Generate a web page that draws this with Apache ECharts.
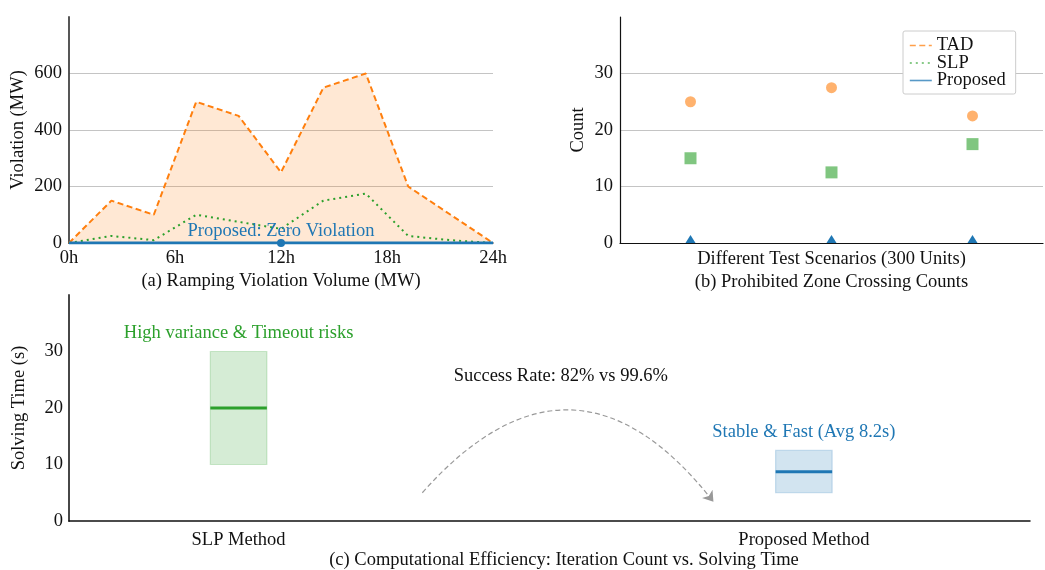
<!DOCTYPE html>
<html>
<head>
<meta charset="utf-8">
<script src="https://cdn.jsdelivr.net/npm/echarts/dist/echarts.min.js"></script>
<style>
  html, body { margin: 0; padding: 0; background: #fff; }
  #chart { width: 1045px; height: 570px; }
</style>
</head>
<body>
<div id="chart"></div>
<script>
// ---- Data ----
const hours = [0, 2.4, 4.8, 7.2, 9.6, 12, 14.4, 16.8, 19.2, 21.6, 24];
const tadViolation = [0, 150, 100, 500, 450, 250, 550, 600, 200, 100, 0];
const slpViolation = [0, 25, 10, 100, 75, 50, 150, 175, 25, 10, 0];
const proposedViolation = [0, 0, 0, 0, 0, 0, 0, 0, 0, 0, 0];
const zeroMarkerHour = [12];
const zeroLabel = 'Proposed: Zero Violation';

const scenarios = ['Scenario 1', 'Scenario 2', 'Scenario 3'];
const tadCrossings = [25, 27.5, 22.5];
const slpCrossings = [15, 12.5, 17.5];
const proposedCrossings = [0, 0, 0];

const methods = ['SLP Method', 'Proposed Method'];
const methodPos = [0, 1];
const timeLow = [10, 5];
const timeHigh = [30, 12.5];
const timeMedian = [20, 8.7];
const methodNotes = ['High variance & Timeout risks', 'Stable & Fast (Avg 8.2s)'];
const arrowStart = [0.325, 5];
const arrowEnd = [0.84, 3.4];
const successText = 'Success Rate: 82% vs 99.6%';
const successPos = [0.57, 25.7];

const seriesNames = ['TAD', 'SLP', 'Proposed'];

// ---- Style ----
const FONT = '"Liberation Serif", "Times New Roman", serif';
const FS = 18.5;
const ORANGE = '#ff7f0e', GREEN = '#2ca02c', BLUE = '#1f77b4';
const methodColors = [GREEN, BLUE];
const BOX_HALF = 0.05;
function rgba(hex, a) {
  const n = parseInt(hex.slice(1), 16);
  return 'rgba(' + (n >> 16 & 255) + ',' + (n >> 8 & 255) + ',' + (n & 255) + ',' + a + ')';
}
const labelStyle = { fontFamily: FONT, fontSize: FS, color: '#111' };

const chart = echarts.init(document.getElementById('chart'), null, { renderer: 'canvas' });

const option = {
  animation: false,
  textStyle: { fontFamily: FONT },
  title: [{
    text: '(c) Computational Efficiency: Iteration Count vs. Solving Time',
    left: 564, top: 551, textAlign: 'center', padding: 0,
    textStyle: { fontFamily: FONT, fontSize: FS, fontWeight: 'normal', color: '#111' }
  }],
  legend: {
    data: seriesNames,
    orient: 'vertical',
    left: 903, top: 31,
    backgroundColor: '#fff',
    borderColor: '#cccccc', borderWidth: 1, borderRadius: 2,
    padding: [5, 10, 4, 6],
    itemWidth: 22, itemHeight: 10, itemGap: -1.5,
    itemStyle: { opacity: 0 },
    lineStyle: { opacity: 0.75, width: 1.6 },
    textStyle: { fontFamily: FONT, fontSize: FS, color: '#111', lineHeight: 17.5 }
  },
  grid: [
    { left: 69, top: 17, width: 424, height: 226, outerBoundsMode: 'none' },
    { left: 620, top: 17, width: 423, height: 226, outerBoundsMode: 'none' },
    { left: 69, top: 295, width: 961, height: 226, outerBoundsMode: 'none' }
  ],
  xAxis: [
    {
      gridIndex: 0, type: 'value', min: 0, max: 24, interval: 6,
      axisLine: { show: true, lineStyle: { color: '#333', width: 1.5 } },
      axisTick: { show: false }, splitLine: { show: false },
      axisLabel: Object.assign({ margin: 6, formatter: v => v + 'h' }, labelStyle),
      name: '(a) Ramping Violation Volume (MW)', nameLocation: 'middle', nameGap: 29,
      nameTextStyle: labelStyle
    },
    {
      gridIndex: 1, type: 'category', data: scenarios, boundaryGap: true,
      axisLine: { show: true, lineStyle: { color: '#111', width: 1.2 } },
      axisTick: { show: false }, axisLabel: { show: false }, splitLine: { show: false },
      name: 'Different Test Scenarios (300 Units)\n(b) Prohibited Zone Crossing Counts',
      nameLocation: 'middle', nameGap: 4,
      nameTextStyle: Object.assign({ lineHeight: 23.4 }, labelStyle)
    },
    {
      gridIndex: 2, type: 'value', min: -0.3, max: 1.4,
      axisLine: { show: true, onZero: false, lineStyle: { color: '#111', width: 1.5 } },
      axisTick: { show: false }, splitLine: { show: false },
      axisLabel: Object.assign({
        margin: 10,
        customValues: methodPos,
        formatter: v => methods[methodPos.indexOf(Math.round(v))] || ''
      }, labelStyle)
    }
  ],
  yAxis: [
    {
      gridIndex: 0, type: 'value', min: 0, max: 800, interval: 200,
      axisLine: { show: true, onZero: false, lineStyle: { color: '#444', width: 1.8 } },
      axisTick: { show: false },
      axisLabel: Object.assign({ margin: 7, showMaxLabel: false }, labelStyle),
      splitLine: { show: true, showMaxLine: false, lineStyle: { color: '#c4c4c4', width: 1 } },
      name: 'Violation (MW)', nameLocation: 'middle', nameGap: 41, nameTextStyle: labelStyle
    },
    {
      gridIndex: 1, type: 'value', min: 0, max: 40, interval: 10,
      axisLine: { show: true, onZero: false, lineStyle: { color: '#111', width: 1.2 } },
      axisTick: { show: false },
      axisLabel: Object.assign({ margin: 7, showMaxLabel: false }, labelStyle),
      splitLine: { show: true, showMaxLine: false, lineStyle: { color: '#c4c4c4', width: 1 } },
      name: 'Count', nameLocation: 'middle', nameGap: 32, nameTextStyle: labelStyle
    },
    {
      gridIndex: 2, type: 'value', min: 0, max: 40, interval: 10,
      axisLine: { show: true, onZero: false, lineStyle: { color: '#333', width: 1.8 } },
      axisTick: { show: false },
      axisLabel: Object.assign({ margin: 6, showMaxLabel: false }, labelStyle),
      splitLine: { show: false },
      name: 'Solving Time (s)', nameLocation: 'middle', nameGap: 40, nameTextStyle: labelStyle
    }
  ],
  series: [
    {
      name: 'TAD', type: 'line', xAxisIndex: 0, yAxisIndex: 0,
      data: hours.map((h, i) => [h, tadViolation[i]]),
      symbol: 'none',
      lineStyle: { color: ORANGE, width: 2, type: [6, 3.5] },
      itemStyle: { color: ORANGE },
      areaStyle: { color: rgba(ORANGE, 0.25) },
      z: 2
    },
    {
      name: 'SLP', type: 'line', xAxisIndex: 0, yAxisIndex: 0,
      data: hours.map((h, i) => [h, slpViolation[i]]),
      symbol: 'none',
      lineStyle: { color: GREEN, width: 2, type: [2, 4] },
      itemStyle: { color: GREEN },
      z: 3
    },
    {
      name: 'Proposed', type: 'line', xAxisIndex: 0, yAxisIndex: 0,
      data: hours.map((h, i) => [h, proposedViolation[i]]),
      symbol: 'none',
      lineStyle: { color: BLUE, width: 3 },
      itemStyle: { color: BLUE },
      z: 4
    },
    {
      name: 'Proposed marker', type: 'scatter', xAxisIndex: 0, yAxisIndex: 0,
      data: zeroMarkerHour.map(h => [h, 0]),
      symbol: 'circle', symbolSize: 8,
      itemStyle: { color: BLUE, opacity: 1 },
      label: { show: true, position: 'top', distance: -2, formatter: zeroLabel,
               fontFamily: FONT, fontSize: FS, color: BLUE, textBorderWidth: 0 },
      z: 5
    },
    {
      name: 'TAD crossings', type: 'scatter', xAxisIndex: 1, yAxisIndex: 1,
      data: tadCrossings, symbol: 'circle', symbolSize: 11,
      itemStyle: { color: rgba(ORANGE, 0.6), opacity: 1 }
    },
    {
      name: 'SLP crossings', type: 'scatter', xAxisIndex: 1, yAxisIndex: 1,
      data: slpCrossings, symbol: 'rect', symbolSize: 12,
      itemStyle: { color: rgba(GREEN, 0.6), opacity: 1 }
    },
    {
      name: 'Proposed crossings', type: 'scatter', xAxisIndex: 1, yAxisIndex: 1,
      data: proposedCrossings, symbol: 'triangle', symbolSize: [10, 8],
      symbolOffset: [0, '-50%'],
      itemStyle: { color: BLUE, opacity: 1 }, z: 1
    },
    {
      name: 'Solving time', type: 'custom', xAxisIndex: 2, yAxisIndex: 2,
      data: methodPos.map((x, i) => [x, timeLow[i], timeHigh[i], timeMedian[i]]),
      renderItem: function (params, api) {
        const x = api.value(0), lo = api.value(1), hi = api.value(2), med = api.value(3);
        const idx = params.dataIndex;
        const c = methodColors[idx];
        const p1 = api.coord([x - BOX_HALF, hi]);
        const p2 = api.coord([x + BOX_HALF, lo]);
        const m = api.coord([x, med]);
        return {
          type: 'group',
          children: [
            { type: 'rect', shape: { x: p1[0], y: p1[1], width: p2[0] - p1[0], height: p2[1] - p1[1] },
              style: { fill: rgba(c, 0.2), stroke: rgba(c, 0.22), lineWidth: 1.2 } },
            { type: 'line', shape: { x1: p1[0], y1: m[1], x2: p2[0], y2: m[1] },
              style: { stroke: c, lineWidth: 3 } },
            { type: 'text',
              style: { x: (p1[0] + p2[0]) / 2, y: p1[1] - 9, text: methodNotes[idx],
                       fill: c, font: FS + 'px ' + FONT,
                       align: 'center', verticalAlign: 'bottom',
                       textAlign: 'center', textVerticalAlign: 'bottom' } }
          ]
        };
      }
    },
    {
      name: 'Arrow', type: 'lines', coordinateSystem: 'cartesian2d', xAxisIndex: 2, yAxisIndex: 2,
      data: [{ coords: [arrowStart, arrowEnd] }],
      symbol: ['none', 'arrow'], symbolSize: 10,
      lineStyle: { color: '#999', width: 1.2, type: [5, 3], curveness: 0.6, opacity: 1 },
      z: 3
    },
    {
      name: 'Success', type: 'scatter', xAxisIndex: 2, yAxisIndex: 2,
      data: [successPos], symbolSize: 0,
      itemStyle: { opacity: 1 },
      label: { show: true, position: 'inside', formatter: successText,
               fontFamily: FONT, fontSize: FS, color: '#111', textBorderWidth: 0 }
    }
  ]
};
chart.setOption(option);
</script>
</body>
</html>
